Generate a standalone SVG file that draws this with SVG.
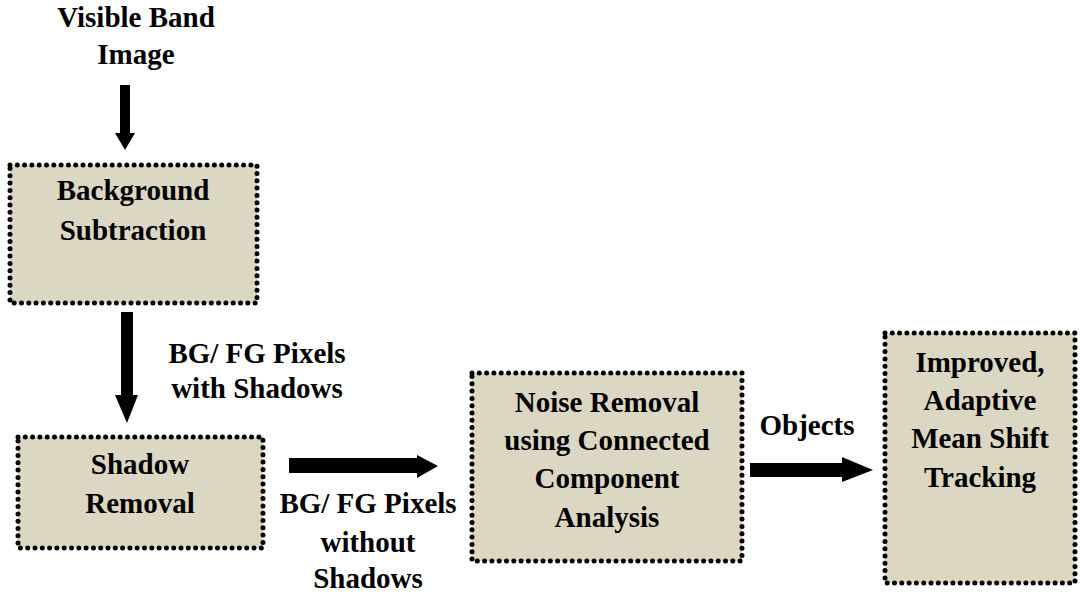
<svg xmlns="http://www.w3.org/2000/svg" width="1080" height="599" viewBox="0 0 1080 599">
<style>
.box{fill:#dbd7c2;stroke:#000;stroke-width:5;stroke-dasharray:0 7.3;stroke-linecap:round}
.t{font-family:"Liberation Serif","Times New Roman",serif;font-weight:bold;font-size:29px;fill:#000;text-anchor:middle}
.arr{fill:#000}
</style>
<rect width="1080" height="599" fill="#fff"/>
<g id="input">
<text class="t" x="136" y="27">Visible Band</text>
<text class="t" x="136" y="64">Image</text>
</g>
<g id="bgsub">
<rect class="box" x="10" y="165" width="247" height="138"/>
<text class="t" x="133" y="200">Background</text>
<text class="t" x="133" y="240">Subtraction</text>
</g>
<g id="shadow">
<rect class="box" x="18" y="437" width="245" height="111"/>
<text class="t" x="140" y="474">Shadow</text>
<text class="t" x="140" y="513">Removal</text>
</g>
<g id="noise">
<rect class="box" x="472" y="373" width="270" height="188"/>
<text class="t" x="607" y="412">Noise Removal</text>
<text class="t" x="607" y="450">using Connected</text>
<text class="t" x="607" y="488">Component</text>
<text class="t" x="607" y="527">Analysis</text>
</g>
<g id="tracking">
<rect class="box" x="885" y="333" width="190" height="250"/>
<text class="t" x="980" y="372">Improved,</text>
<text class="t" x="980" y="410">Adaptive</text>
<text class="t" x="980" y="448">Mean Shift</text>
<text class="t" x="980" y="487">Tracking</text>
</g>
<g id="connectors">
<polygon class="arr" points="120,85 130,85 130,133 135,133 125,150 115,133 120,133"/>
<polygon class="arr" points="121,312 133,312 133,395 138,395 127,423 115,395 121,395"/>
<polygon class="arr" points="289,458 417,458 417,455 438,466 417,478 417,473 289,473"/>
<polygon class="arr" points="750,463 842,463 842,457 873,470 842,482 842,477 750,477"/>
<text class="t" x="257" y="363">BG/ FG Pixels</text>
<text class="t" x="257" y="398">with Shadows</text>
<text class="t" x="368" y="513">BG/ FG Pixels</text>
<text class="t" x="368" y="552">without</text>
<text class="t" x="368" y="588">Shadows</text>
<text class="t" x="807" y="435">Objects</text>
</g>
</svg>
